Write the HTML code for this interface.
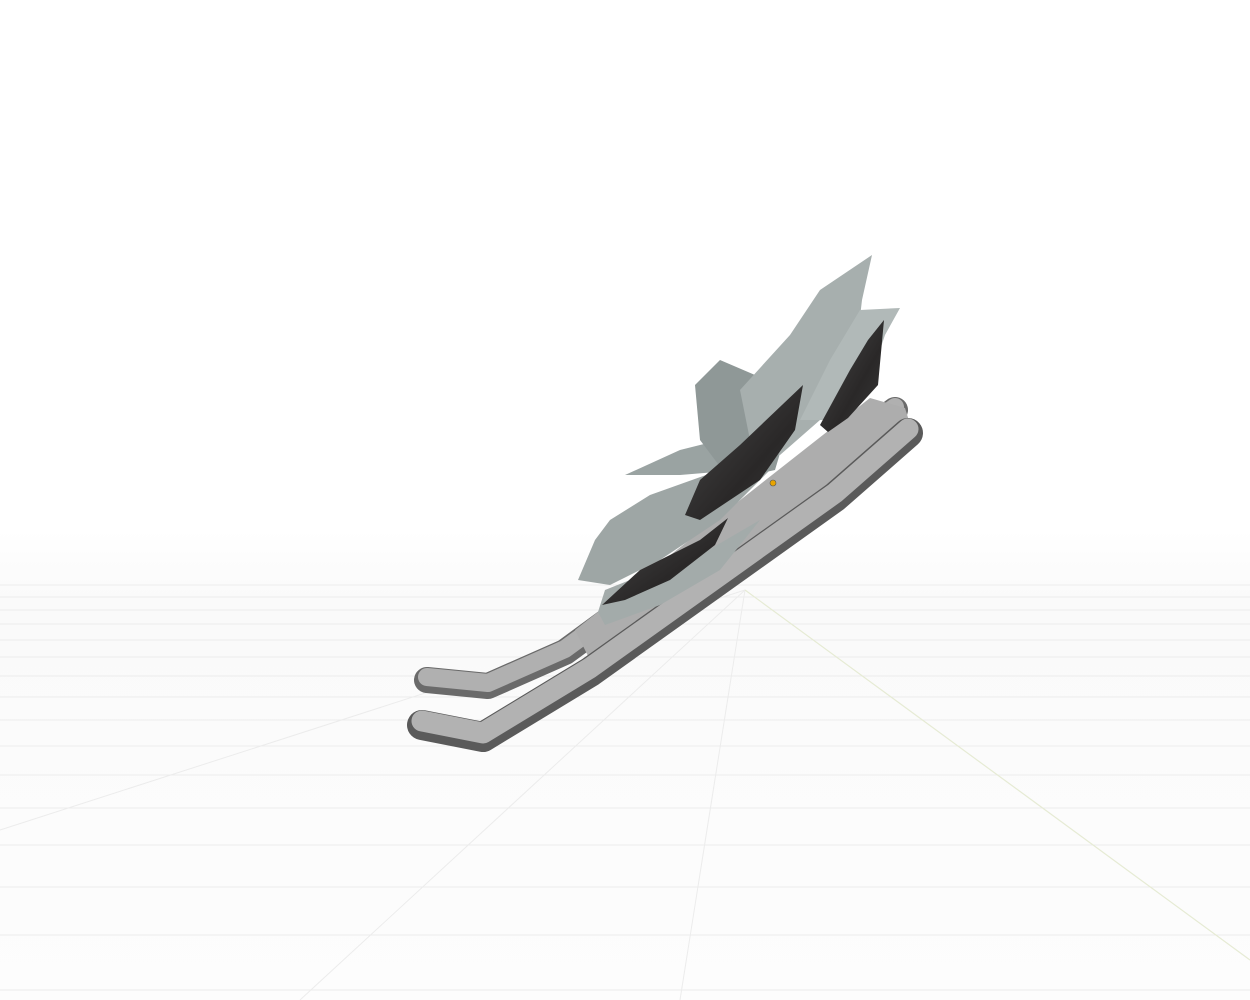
<!DOCTYPE html>
<html><head><meta charset="utf-8"><style>
html,body{margin:0;padding:0;background:#fff;width:1250px;height:1000px;overflow:hidden}
</style></head><body>
<svg width="1250" height="1000" viewBox="0 0 1250 1000" xmlns="http://www.w3.org/2000/svg">
<defs>
<linearGradient id="bg" x1="0" y1="0" x2="0" y2="1">
<stop offset="0" stop-color="#fff"/><stop offset="0.53" stop-color="#fff"/><stop offset="0.6" stop-color="#fafafa"/><stop offset="1" stop-color="#fdfdfd"/>
</linearGradient>
<linearGradient id="dk" x1="0" y1="0" x2="1" y2="1">
<stop offset="0" stop-color="#4a4a4a"/><stop offset="0.6" stop-color="#2a2828"/><stop offset="1" stop-color="#3a3a3a"/>
</linearGradient>
</defs>
<rect width="1250" height="1000" fill="url(#bg)"/>
<g stroke="#ececec" stroke-width="1">
<line x1="0" y1="585" x2="1250" y2="585"/><line x1="0" y1="597" x2="1250" y2="597"/>
<line x1="0" y1="610" x2="1250" y2="610"/><line x1="0" y1="624" x2="1250" y2="624"/>
<line x1="0" y1="640" x2="1250" y2="640"/><line x1="0" y1="657" x2="1250" y2="657"/>
<line x1="0" y1="676" x2="1250" y2="676"/><line x1="0" y1="697" x2="1250" y2="697"/>
<line x1="0" y1="720" x2="1250" y2="720"/><line x1="0" y1="746" x2="1250" y2="746"/>
<line x1="0" y1="775" x2="1250" y2="775"/><line x1="0" y1="808" x2="1250" y2="808"/>
<line x1="0" y1="845" x2="1250" y2="845"/><line x1="0" y1="887" x2="1250" y2="887"/>
<line x1="0" y1="935" x2="1250" y2="935"/><line x1="0" y1="990" x2="1250" y2="990"/>
<line x1="745" y1="590" x2="0" y2="830"/><line x1="745" y1="590" x2="300" y2="1000"/>
<line x1="745" y1="590" x2="680" y2="1000"/>
</g>
<line x1="745" y1="590" x2="1250" y2="960" stroke="#e6ebd4" stroke-width="1.2"/>
<!-- back tube -->
<path d="M427,680 L488,686 L565,652 L895,410" fill="none" stroke="#6a6a6a" stroke-width="26" stroke-linecap="round" stroke-linejoin="round"/>
<path d="M427,677 L488,683 L565,649 L895,407" fill="none" stroke="#b0b0b0" stroke-width="18" stroke-linecap="round" stroke-linejoin="round"/>
<!-- merged body -->
<polygon points="575,630 870,398 905,408 915,440 835,505 600,680" fill="#adadad"/>
<!-- front tube -->
<path d="M422,725 L483,737 L590,672 L835,497 L908,433" fill="none" stroke="#5a5a5a" stroke-width="30" stroke-linecap="round" stroke-linejoin="round"/>
<path d="M422,721 L483,733 L590,668 L835,493 L908,429" fill="none" stroke="#b2b2b2" stroke-width="21" stroke-linecap="round" stroke-linejoin="round"/>
<!-- petals light -->
<path d="M578,580 L595,540 L610,520 L650,495 L720,470 L770,470 L720,520 L660,560 L610,585 Z" fill="#9ea6a5"/>
<path d="M598,612 L605,590 L630,580 L700,555 L760,520 L720,570 L660,605 L605,625 Z" fill="#a3abaa"/>
<path d="M625,475 L680,450 L720,440 L760,445 L740,470 L680,475 Z" fill="#9aa3a2"/>
<path d="M695,385 L720,360 L755,375 L790,420 L775,470 L730,480 L700,440 Z" fill="#8f9897"/>
<path d="M740,390 L790,335 L820,290 L872,255 L862,300 L855,360 L820,420 L780,455 L750,440 Z" fill="#a7afae"/>
<path d="M800,420 L830,360 L860,310 L900,308 L885,335 L870,380 L845,420 Z" fill="#b1b9b8"/>
<!-- dark petals -->
<path d="M820,425 L850,370 L868,340 L884,320 L878,385 L848,418 L828,432 Z" fill="url(#dk)"/>
<path d="M685,515 L700,480 L740,445 L803,385 L795,430 L760,480 L700,520 Z" fill="url(#dk)"/>
<path d="M602,605 L640,570 L700,540 L728,518 L715,545 L670,580 L625,600 Z" fill="url(#dk)"/>
<circle cx="773" cy="483" r="3" fill="#e8a400" stroke="#555" stroke-width="0.6"/>
</svg>
</body></html>
